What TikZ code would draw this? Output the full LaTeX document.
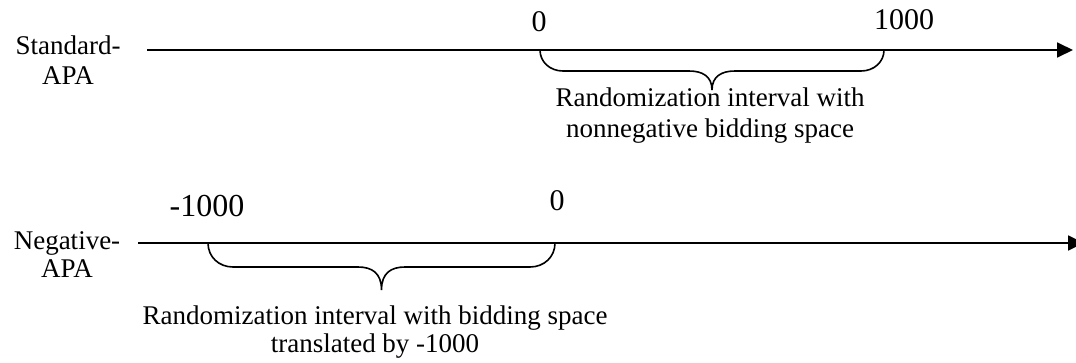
\documentclass[tikz,border=0pt]{standalone}
\usepackage{fontspec}
\setmainfont{Liberation Serif}
\usetikzlibrary{arrows.meta}
\tikzset{
  axisline/.style={line width=1.8pt, -{Triangle[length=16pt,width=15pt]}},
  bracepath/.style={line width=1.6pt},
  txt/.style={inner sep=0pt, align=center, font=\fontsize{27}{30}\selectfont},
  num/.style={inner sep=0pt, font=\fontsize{30}{32}\selectfont},
}
\begin{document}
\begin{tikzpicture}[x=1pt,y=-1pt]
\useasboundingbox (0,0) rectangle (1076,362);
% ---------- Standard-APA ----------
\node[txt] (stdlab) at (68,60) {Standard-\\APA};
\coordinate (s0) at (147,50);
\coordinate (s1) at (1073,50);
\draw[axisline] (s0) -- (s1);
\node[num] (z1) at (539,22) {0};
\node[num] (k1) at (904,20) {1000};
\coordinate (ba) at (540,50);
\coordinate (bb) at (884,50);
\coordinate (bm) at (712,90);
\draw[bracepath] (ba) .. controls (540,62) and (550,71) .. (563,71)
  -- (689,71) .. controls (702,71) and (712,76) .. (bm)
  .. controls (712,76) and (722,71) .. (735,71)
  -- (861,71) .. controls (874,71) and (884,62) .. (bb);
\node[txt, font=\fontsize{27}{31}\selectfont] (t1) at (710,116) {Randomization interval with\\nonnegative bidding space};
% ---------- Negative-APA ----------
\node[txt, font=\fontsize{27}{28}\selectfont] (neglab) at (67,255) {Negative-\\APA};
\coordinate (n0) at (138,243);
\coordinate (n1) at (1084,243);
\draw[axisline] (n0) -- (n1);
\node[num, font=\fontsize{32}{34}\selectfont] (m1) at (207,206) {-1000};
\node[num] (z2) at (557,201) {0};
\coordinate (ca) at (208,243);
\coordinate (cb) at (555,243);
\coordinate (cm) at (381.5,290);
\draw[bracepath] (ca) .. controls (208,257) and (219,267) .. (233,267)
  -- (358,267) .. controls (372,267) and (381.5,273) .. (cm)
  .. controls (381.5,273) and (391,267) .. (405,267)
  -- (530,267) .. controls (544,267) and (555,257) .. (cb);
\node[txt, font=\fontsize{27}{28}\selectfont] (t2) at (375,332) {Randomization interval with bidding space\\translated by -1000};
\end{tikzpicture}
\end{document}
